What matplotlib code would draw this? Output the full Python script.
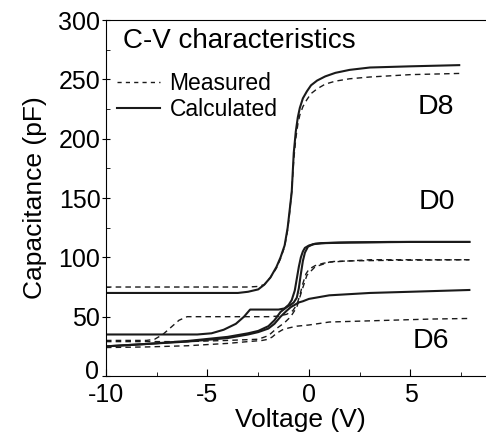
import numpy as np
import matplotlib
matplotlib.use('Agg')
import matplotlib.pyplot as plt
from matplotlib.lines import Line2D
from matplotlib.ticker import MultipleLocator, FuncFormatter

plt.rcParams['font.family'] = ['Liberation Sans', 'DejaVu Sans']

# D8 calculated / measured
d8_calc_v = [-10, -6, -3.5, -3, -2.5, -2.2, -1.9, -1.6, -1.4, -1.2, -1.05, -0.95, -0.85,
             -0.75, -0.65, -0.55, -0.45, -0.3, -0.1, 0.1, 0.4, 0.8, 1.3, 2, 3, 5, 7.4]
d8_calc_c = [70, 70, 70, 71, 73, 77, 83, 92, 100, 110, 125, 140, 155,
             188, 206, 218, 226, 234, 240, 245, 249, 252.5, 255.5, 258, 260, 261, 262]
d8_meas_v = [-10, -6, -3, -2.5, -2.2, -1.9, -1.6, -1.4, -1.2, -1.05, -0.95, -0.85, -0.75,
             -0.65, -0.55, -0.45, -0.3, -0.1, 0.1, 0.4, 0.8, 1.3, 2, 3, 5, 7.4]
d8_meas_c = [75, 75, 75, 75.5, 77, 83, 91, 99, 109, 123, 138, 156, 182,
             200, 212, 220, 227, 233, 238, 242, 246, 248.5, 250.5, 252, 254, 255]

# D0 calculated (with step) / measured (with step)
d0_calc_v = [-10, -7, -5.5, -4.8, -4.2, -3.6, -3.2, -2.9, -2.5, -2, -1.5, -1.2, -1.0, -0.85,
             -0.7, -0.6, -0.5, -0.4, -0.3, -0.2, 0, 0.3, 0.8, 2, 5, 7.9]
d0_calc_c = [35, 35, 35, 36, 39, 44, 50, 56, 56, 56, 56, 57, 60, 64,
             72, 82, 92, 100, 105, 108, 110, 111.5, 112, 112.5, 113, 113]
d0_meas_v = [-10, -8, -7.6, -7.2, -6.8, -6.4, -6, -5, -3, -2, -1.5, -1.1, -0.8, -0.6,
             -0.45, -0.3, -0.15, 0, 0.3, 0.7, 1.2, 2, 4, 7.9]
d0_meas_c = [30, 30, 31, 35, 41, 47, 50, 50, 50, 50, 50.5, 52, 55, 60,
             68, 78, 86, 90, 93, 95, 96.5, 97, 97.5, 98]

# second pair running from ~25-29 pF
dx_calc_v = [-10, -8, -6, -4, -3, -2.5, -2, -1.7, -1.4, -1.1, -0.9, -0.75, -0.6, -0.5,
             -0.4, -0.3, -0.2, -0.05, 0.2, 0.6, 1.5, 4, 7.9]
dx_calc_c = [25, 27, 29.5, 33, 36, 38, 42, 47, 54, 58, 60, 62, 66, 74,
             86, 97, 104, 109, 111, 112, 112.5, 113, 113]
dx_meas_v = [-10, -6, -4, -2.5, -2, -1.6, -1.2, -0.9, -0.6, -0.35, -0.1, 0.3, 1, 3, 7.9]
dx_meas_c = [29, 29, 30, 31, 34, 40, 45, 50, 58, 72, 85, 92, 96, 98, 98]

# D6 calculated / measured
d6_calc_v = [-10, -8, -6, -4, -3, -2.5, -2, -1.7, -1.4, -1.1, -0.9, -0.7, -0.5, -0.3,
             0, 0.5, 1, 2, 3, 5, 7.9]
d6_calc_c = [25, 27, 29, 32, 35, 37, 40, 44, 50, 55, 58, 60, 62, 63,
             65, 66.5, 68, 69, 70, 71, 72.5]
d6_meas_v = [-10, -8, -6, -4, -3, -2.3, -2, -1.8, -1.6, -1.3, -1.0, -0.6, 0, 1, 2, 4, 6, 7.9]
d6_meas_c = [24, 24.5, 25.5, 27.5, 29, 30, 31, 33, 36, 39, 40.5, 42, 43, 45.5, 46, 47, 48, 48.5]

line_col = '#1a1a1a'
dash = (4, 3)

fig = plt.figure(figsize=(4.86, 4.32), dpi=100)
ax = fig.add_axes([0.218, 0.1296, 0.80, 0.824])

for v, c in [(d8_calc_v, d8_calc_c), (d0_calc_v, d0_calc_c),
             (dx_calc_v, dx_calc_c), (d6_calc_v, d6_calc_c)]:
    ax.plot(v, c, color=line_col, lw=1.5)
for v, c in [(d8_meas_v, d8_meas_c), (d0_meas_v, d0_meas_c),
             (dx_meas_v, dx_meas_c), (d6_meas_v, d6_meas_c)]:
    ax.plot(v, c, color=line_col, lw=1.0, dashes=dash)

ax.set_xlim(-10, 9.15)
ax.set_ylim(0, 300)
ax.spines['right'].set_visible(False)
ax.xaxis.set_major_locator(MultipleLocator(5))
ax.xaxis.set_minor_locator(MultipleLocator(2.5))
ax.yaxis.set_major_locator(MultipleLocator(50))
ax.yaxis.set_minor_locator(MultipleLocator(25))
ax.tick_params(axis='x', which='major', direction='in', length=5, labelsize=18, pad=5)
ax.tick_params(axis='y', which='major', direction='inout', length=6, labelsize=18, pad=1)
ax.tick_params(which='minor', direction='in', length=3)
ax.tick_params(top=False, right=False)
ax.set_xticks([-10, -5, 0, 5])
ax.set_xticklabels(['-10', '-5', '0', '5'])

# "0" on the y axis is placed by hand, a touch higher, so it clears "-10"
ax.yaxis.set_major_formatter(FuncFormatter(lambda v, p: '' if v == 0 else f'{v:.0f}'))
ax.annotate('0', xy=(0, 0), xycoords='axes fraction', xytext=(-5, 3),
            textcoords='offset points', ha='right', va='center', fontsize=18)

ax.set_xlabel('Voltage (V)', fontsize=19, labelpad=1)
ax.set_ylabel('Capacitance (pF)', fontsize=19, labelpad=8)

ax.text(0.044, 0.942, 'C-V characteristics', transform=ax.transAxes,
        fontsize=20, va='center', ha='left')
ax.text(6.26, 227, 'D8', fontsize=20.5, ha='center', va='center')
ax.text(6.3, 147, 'D0', fontsize=20.5, ha='center', va='center')
ax.text(6.0, 29.5, 'D6', fontsize=20.5, ha='center', va='center')

handles = [Line2D([], [], color=line_col, lw=1.0, dashes=(3, 3)),
           Line2D([], [], color=line_col, lw=1.5)]
ax.legend(handles, ['Measured', 'Calculated'], loc='upper left',
          bbox_to_anchor=(0.028, 0.853), borderaxespad=0, borderpad=0,
          frameon=False, fontsize=16.5, handlelength=1.9, handletextpad=0.4,
          labelspacing=0.12)

fig.savefig('out.png', dpi=100)
